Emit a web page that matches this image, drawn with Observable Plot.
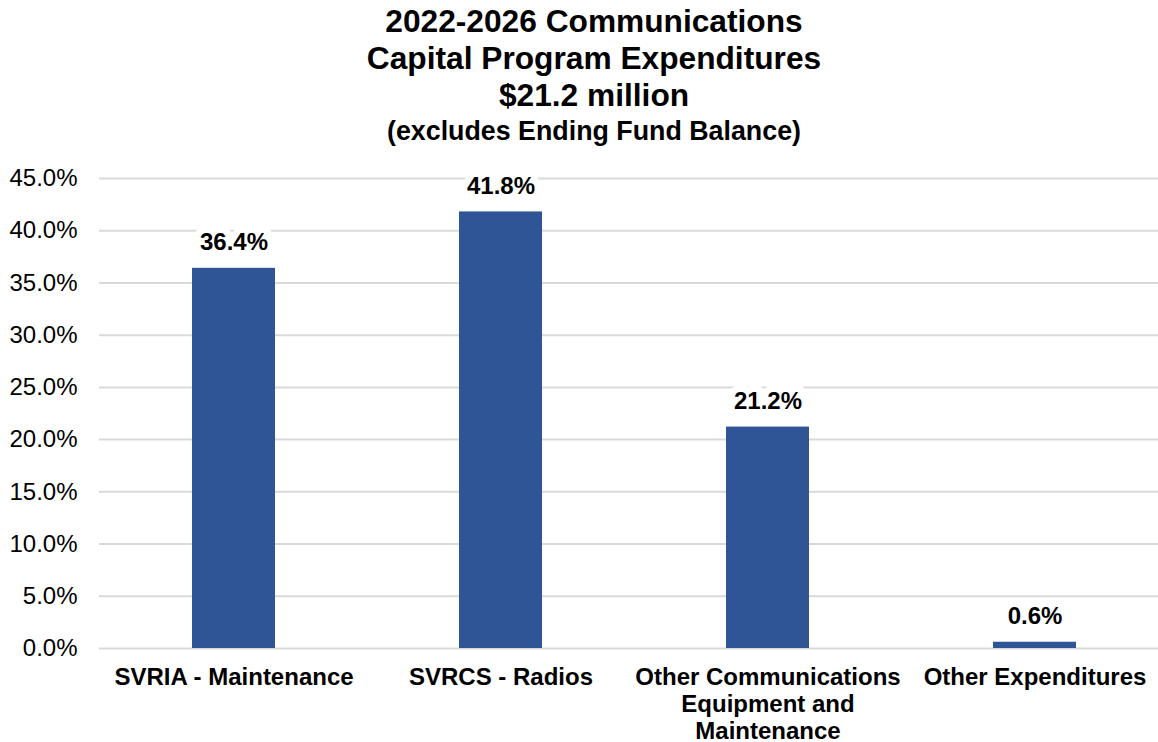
<!DOCTYPE html>
<html>
<head>
<meta charset="utf-8">
<script src="https://cdn.jsdelivr.net/npm/d3@7"></script>
<script src="https://cdn.jsdelivr.net/npm/@observablehq/plot@0.6"></script>
<style>
  html, body { margin: 0; padding: 0; background: #fff; }
  body { width: 1158px; height: 742px; overflow: hidden; font-family: "Liberation Sans", Arial, sans-serif; }
  #title { text-align: center; font-weight: bold; color: #000; padding-top: 3px; padding-left: 30px; width: 1158px; box-sizing: border-box; height: 148px; }
  #title .t { font-size: 31.7px; line-height: 37px; }
  #title .s { font-size: 26.8px; line-height: 34px; }
</style>
</head>
<body>
<div id="title">
  <div class="t">2022-2026 Communications</div>
  <div class="t">Capital Program Expenditures</div>
  <div class="t">$21.2 million</div>
  <div class="s">(excludes Ending Fund Balance)</div>
</div>
<div id="chart"></div>
<script>
const categories = ["SVRIA - Maintenance", "SVRCS - Radios", "Other Communications Equipment and Maintenance", "Other Expenditures"];
const tickLabels = ["SVRIA - Maintenance", "SVRCS - Radios", "Other Communications\nEquipment and\nMaintenance", "Other Expenditures"];
const values = [36.4, 41.8, 21.2, 0.6];
const yTicks = [0, 5, 10, 15, 20, 25, 30, 35, 40, 45];

const data = categories.map((c, i) => ({category: c, value: values[i]}));
const labelOf = new Map(categories.map((c, i) => [c, tickLabels[i]]));

const chart = Plot.plot({
  width: 1158,
  height: 594,
  marginTop: 30,
  marginBottom: 94,
  marginLeft: 99,
  marginRight: 0,
  style: {fontFamily: '"Liberation Sans", Arial, sans-serif', fontSize: "24px", color: "#000", background: "#fff", overflow: "visible"},
  x: {domain: categories, range: [99, 1168], paddingInner: 0.69, paddingOuter: 0.345, label: null},
  y: {domain: [0, 45], label: null},
  marks: [
    Plot.gridY(yTicks, {stroke: "#d9d9d9", strokeOpacity: 1, strokeWidth: 2}),
    Plot.barY(data, {x: "category", y: "value", fill: "#2F5597"}),
    Plot.text(data, {x: "category", y: "value", text: d => d.value.toFixed(1) + "%", dy: -26, fontWeight: "bold", fontSize: 24, fill: "#000", stroke: "#fff", strokeWidth: 14, strokeLinejoin: "round"}),
    Plot.axisY({ticks: yTicks, tickSize: 0, tickPadding: 22, tickFormat: d => d.toFixed(1) + "%", fontSize: 24, label: null}),
    Plot.axisX({tickSize: 0, tickPadding: 17, tickFormat: d => labelOf.get(d), fontSize: 24, fontWeight: "bold", lineHeight: 1.13, label: null})
  ]
});
document.getElementById("chart").appendChild(chart);
</script>
</body>
</html>
